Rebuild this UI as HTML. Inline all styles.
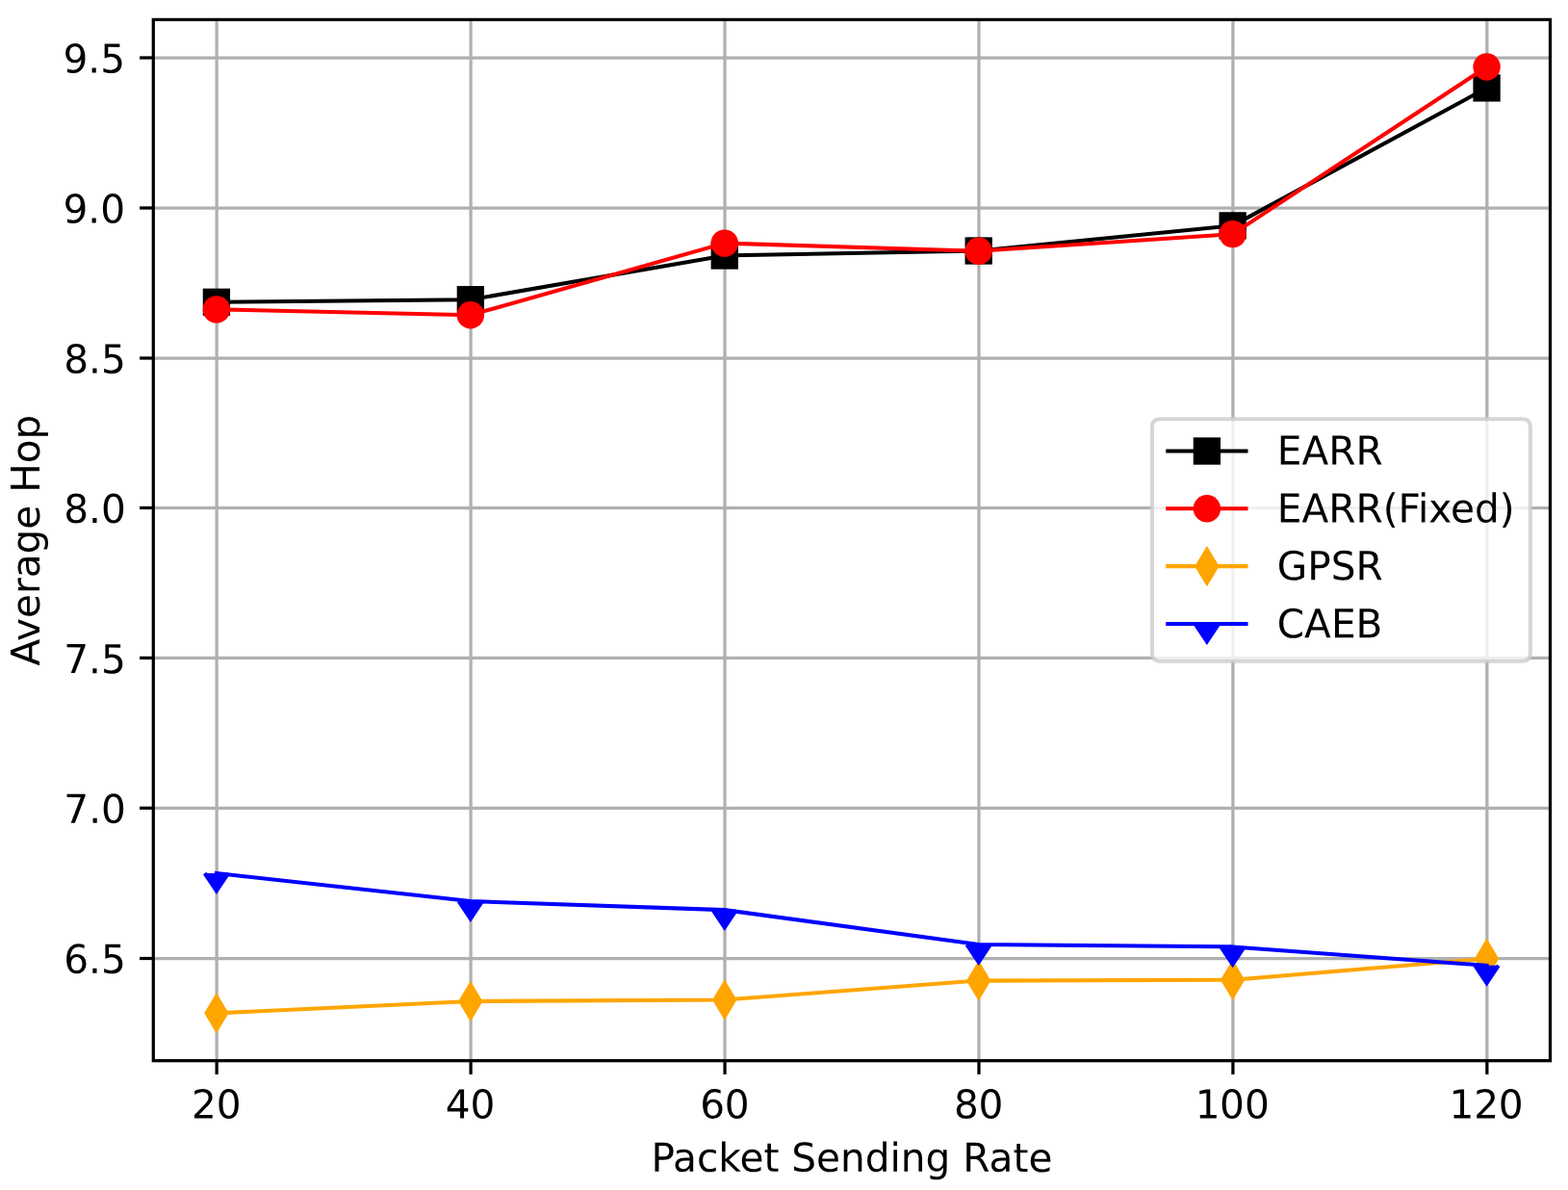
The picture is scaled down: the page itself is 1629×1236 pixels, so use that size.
<!DOCTYPE html>
<html lang="en"><head><meta charset="utf-8"><title>Average Hop vs Packet Sending Rate</title>
<style>html,body{margin:0;padding:0;background:#fff}body{width:1629px;height:1236px;overflow:hidden}svg{display:block}text{font-family:"DejaVu Sans","Liberation Sans",sans-serif;font-size:40.625px;fill:#000}</style>
</head><body>
<svg width="1629" height="1236" viewBox="0 0 1629 1236" role="img" aria-label="Average Hop versus Packet Sending Rate">
<rect width="1629" height="1236" fill="#fff"/>
<defs><clipPath id="ax"><rect x="159.3" y="20.4" width="1451.2" height="1081.3"/></clipPath></defs>
<g stroke="#b0b0b0" stroke-width="3.25" fill="none">
<line x1="225.15" y1="20.4" x2="225.15" y2="1101.7"/>
<line x1="489.09" y1="20.4" x2="489.09" y2="1101.7"/>
<line x1="753.03" y1="20.4" x2="753.03" y2="1101.7"/>
<line x1="1016.97" y1="20.4" x2="1016.97" y2="1101.7"/>
<line x1="1280.91" y1="20.4" x2="1280.91" y2="1101.7"/>
<line x1="1544.85" y1="20.4" x2="1544.85" y2="1101.7"/>
<line x1="159.3" y1="60" x2="1610.5" y2="60"/>
<line x1="159.3" y1="216" x2="1610.5" y2="216"/>
<line x1="159.3" y1="372" x2="1610.5" y2="372"/>
<line x1="159.3" y1="527.5" x2="1610.5" y2="527.5"/>
<line x1="159.3" y1="683.35" x2="1610.5" y2="683.35"/>
<line x1="159.3" y1="839.3" x2="1610.5" y2="839.3"/>
<line x1="159.3" y1="995.5" x2="1610.5" y2="995.5"/>
</g>
<g clip-path="url(#ax)">
<polyline points="224.9,313.8 488.83,311.2 752.76,265.5 1016.69,260.5 1280.62,234.4 1544.55,91.4" fill="none" stroke="#000000" stroke-width="4.06" stroke-linecap="square" stroke-linejoin="round"/>
<rect x="210.75" y="299.65" width="28.3" height="28.3" fill="#000000"/>
<rect x="474.68" y="297.05" width="28.3" height="28.3" fill="#000000"/>
<rect x="738.61" y="251.35" width="28.3" height="28.3" fill="#000000"/>
<rect x="1002.54" y="246.35" width="28.3" height="28.3" fill="#000000"/>
<rect x="1266.47" y="220.25" width="28.3" height="28.3" fill="#000000"/>
<rect x="1530.4" y="77.25" width="28.3" height="28.3" fill="#000000"/>
<polyline points="224.9,321.4 488.83,327.2 752.76,252.6 1016.69,260.8 1280.62,243.1 1544.55,69.5" fill="none" stroke="#ff0000" stroke-width="4.06" stroke-linecap="square" stroke-linejoin="round"/>
<circle cx="224.9" cy="321.4" r="14.22" fill="#ff0000"/>
<circle cx="488.83" cy="327.2" r="14.22" fill="#ff0000"/>
<circle cx="752.76" cy="252.6" r="14.22" fill="#ff0000"/>
<circle cx="1016.69" cy="260.8" r="14.22" fill="#ff0000"/>
<circle cx="1280.62" cy="243.1" r="14.22" fill="#ff0000"/>
<circle cx="1544.55" cy="69.5" r="14.22" fill="#ff0000"/>
<polyline points="224.9,1052.3 488.83,1040 752.76,1038.5 1016.69,1018.6 1280.62,1017.8 1544.55,995.7" fill="none" stroke="#ffa500" stroke-width="4.06" stroke-linecap="square" stroke-linejoin="round"/>
<polygon points="224.9,1035.06 235.24,1052.3 224.9,1069.54 214.56,1052.3" fill="#ffa500" stroke="#ffa500" stroke-width="4.06" stroke-linejoin="miter" stroke-miterlimit="10"/>
<polygon points="488.83,1022.76 499.17,1040 488.83,1057.24 478.49,1040" fill="#ffa500" stroke="#ffa500" stroke-width="4.06" stroke-linejoin="miter" stroke-miterlimit="10"/>
<polygon points="752.76,1021.26 763.1,1038.5 752.76,1055.74 742.42,1038.5" fill="#ffa500" stroke="#ffa500" stroke-width="4.06" stroke-linejoin="miter" stroke-miterlimit="10"/>
<polygon points="1016.69,1001.36 1027.03,1018.6 1016.69,1035.84 1006.35,1018.6" fill="#ffa500" stroke="#ffa500" stroke-width="4.06" stroke-linejoin="miter" stroke-miterlimit="10"/>
<polygon points="1280.62,1000.56 1290.96,1017.8 1280.62,1035.04 1270.28,1017.8" fill="#ffa500" stroke="#ffa500" stroke-width="4.06" stroke-linejoin="miter" stroke-miterlimit="10"/>
<polygon points="1544.55,978.46 1554.89,995.7 1544.55,1012.94 1534.21,995.7" fill="#ffa500" stroke="#ffa500" stroke-width="4.06" stroke-linejoin="miter" stroke-miterlimit="10"/>
<polyline points="224.9,907 488.83,936.1 752.76,945.1 1016.69,981 1280.62,983.4 1544.55,1002.8" fill="none" stroke="#0000ff" stroke-width="4.06" stroke-linecap="square" stroke-linejoin="round"/>
<path d="M212.71 907L224.9 925.28L237.09 907" fill="#0000ff" stroke="#0000ff" stroke-width="4.06" stroke-linejoin="miter" stroke-miterlimit="10" stroke-linecap="butt"/>
<path d="M476.64 936.1L488.83 954.38L501.02 936.1" fill="#0000ff" stroke="#0000ff" stroke-width="4.06" stroke-linejoin="miter" stroke-miterlimit="10" stroke-linecap="butt"/>
<path d="M740.57 945.1L752.76 963.38L764.95 945.1" fill="#0000ff" stroke="#0000ff" stroke-width="4.06" stroke-linejoin="miter" stroke-miterlimit="10" stroke-linecap="butt"/>
<path d="M1004.5 981L1016.69 999.28L1028.88 981" fill="#0000ff" stroke="#0000ff" stroke-width="4.06" stroke-linejoin="miter" stroke-miterlimit="10" stroke-linecap="butt"/>
<path d="M1268.43 983.4L1280.62 1001.68L1292.81 983.4" fill="#0000ff" stroke="#0000ff" stroke-width="4.06" stroke-linejoin="miter" stroke-miterlimit="10" stroke-linecap="butt"/>
<path d="M1532.36 1002.8L1544.55 1021.08L1556.74 1002.8" fill="#0000ff" stroke="#0000ff" stroke-width="4.06" stroke-linejoin="miter" stroke-miterlimit="10" stroke-linecap="butt"/>
</g>
<rect x="159.3" y="20.4" width="1451.2" height="1081.3" fill="none" stroke="#000" stroke-width="3.25" stroke-linejoin="miter"/>
<g stroke="#000" stroke-width="3.25">
<line x1="225.15" y1="1101.7" x2="225.15" y2="1115.92"/>
<line x1="489.09" y1="1101.7" x2="489.09" y2="1115.92"/>
<line x1="753.03" y1="1101.7" x2="753.03" y2="1115.92"/>
<line x1="1016.97" y1="1101.7" x2="1016.97" y2="1115.92"/>
<line x1="1280.91" y1="1101.7" x2="1280.91" y2="1115.92"/>
<line x1="1544.85" y1="1101.7" x2="1544.85" y2="1115.92"/>
<line x1="145.08" y1="60" x2="159.3" y2="60"/>
<line x1="145.08" y1="216" x2="159.3" y2="216"/>
<line x1="145.08" y1="372" x2="159.3" y2="372"/>
<line x1="145.08" y1="527.5" x2="159.3" y2="527.5"/>
<line x1="145.08" y1="683.35" x2="159.3" y2="683.35"/>
<line x1="145.08" y1="839.3" x2="159.3" y2="839.3"/>
<line x1="145.08" y1="995.5" x2="159.3" y2="995.5"/>
</g>
<text transform="translate(224.85 1161.5) rotate(0.03) scale(1 1.015)" x="-25.85 0">20</text>
<text transform="translate(488.79 1161.5) rotate(0.03) scale(1 1.015)" x="-26.05 -0.4">40</text>
<text transform="translate(752.73 1161.5) rotate(0.03) scale(1 1.015)" x="-25.6 -0.1">60</text>
<text transform="translate(1016.67 1161.5) rotate(0.03) scale(1 1.015)" x="-25.6 -0.1">80</text>
<text transform="translate(1280.61 1161.5) rotate(0.03) scale(1 1.015)" x="-38.77 -13.52 12.32">100</text>
<text transform="translate(1544.55 1161.5) rotate(0.03) scale(1 1.015)" x="-39.07 -13.42 12.22">120</text>
<text transform="translate(130.1 75.55) rotate(0.03) scale(1 1.015)" text-anchor="end">9.5</text>
<text transform="translate(130.1 231.5) rotate(0.03) scale(1 1.015)" text-anchor="end">9.0</text>
<text transform="translate(130.75 387.5) rotate(0.03) scale(1 1.015)" text-anchor="end">8.5</text>
<text transform="translate(130.8 543) rotate(0.03) scale(1 1.015)" text-anchor="end">8.0</text>
<text transform="translate(130.75 699.15) rotate(0.03) scale(1 1.015)" text-anchor="end">7.5</text>
<text transform="translate(130.9 854.8) rotate(0.03) scale(1 1.015)" text-anchor="end">7.0</text>
<text transform="translate(130.75 1010.85) rotate(0.03) scale(1 1.015)" text-anchor="end">6.5</text>
<text transform="translate(884.9 1216.8) rotate(0.03) scale(1 1.015)" text-anchor="middle">Packet Sending Rate</text>
<text transform="translate(40.9 561.05) rotate(-90) scale(1 1.015)" text-anchor="middle">Average Hop</text>
<path d="M1205.12 435.2L1581.72 435.2Q1589.85 435.2 1589.85 443.32L1589.85 678.62Q1589.85 686.75 1581.72 686.75L1205.12 686.75Q1197 686.75 1197 678.62L1197 443.32Q1197 435.2 1205.12 435.2Z" fill="#fff" fill-opacity="0.8" stroke="#ccc" stroke-opacity="0.8" stroke-width="4.06" stroke-linejoin="miter"/>
<line x1="1213.25" y1="468.5" x2="1294.5" y2="468.5" stroke="#000000" stroke-width="4.06" stroke-linecap="square"/>
<rect x="1239.72" y="454.35" width="28.3" height="28.3" fill="#000000"/>
<text transform="translate(1326.75 482.5) rotate(0.03) scale(1 1.015)">EARR</text>
<line x1="1213.25" y1="528.3" x2="1294.5" y2="528.3" stroke="#ff0000" stroke-width="4.06" stroke-linecap="square"/>
<circle cx="1253.88" cy="528.3" r="14.22" fill="#ff0000"/>
<text transform="translate(1326.75 542.5) rotate(0.03) scale(1 1.015)">EARR(Fixed)</text>
<line x1="1213.25" y1="588.15" x2="1294.5" y2="588.15" stroke="#ffa500" stroke-width="4.06" stroke-linecap="square"/>
<polygon points="1253.88,570.91 1264.22,588.15 1253.88,605.39 1243.53,588.15" fill="#ffa500" stroke="#ffa500" stroke-width="4.06" stroke-linejoin="miter" stroke-miterlimit="10"/>
<text transform="translate(1326.75 602.3) rotate(0.03) scale(1 1.015)">GPSR</text>
<line x1="1213.25" y1="648" x2="1294.5" y2="648" stroke="#0000ff" stroke-width="4.06" stroke-linecap="square"/>
<path d="M1241.69 648L1253.88 666.28L1266.06 648" fill="#0000ff" stroke="#0000ff" stroke-width="4.06" stroke-linejoin="miter" stroke-miterlimit="10" stroke-linecap="butt"/>
<text transform="translate(1326.75 662.3) rotate(0.03) scale(1 1.015)">CAEB</text>
</svg>
</body></html>
